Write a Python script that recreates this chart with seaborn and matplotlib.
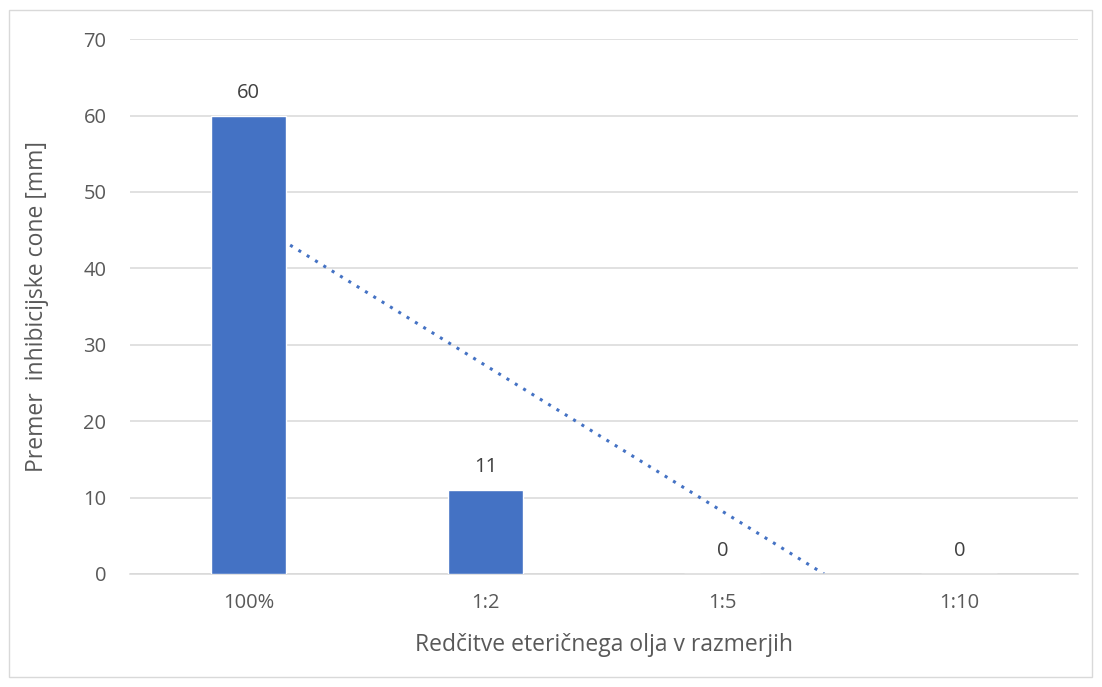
import numpy as np
import pandas as pd
import matplotlib.pyplot as plt
import seaborn as sns
from matplotlib.patches import Rectangle

# data
categories = ["100%", "1:2", "1:5", "1:10"]
values = [60, 11, 0, 0]
xlabel = "Redčitve eteričnega olja v razmerjih"
ylabel = "Premer  inhibicijske cone [mm]"

df = pd.DataFrame({"cat": categories, "val": values})

sns.set_style("white")
plt.rcParams["font.family"] = ["Open Sans", "DejaVu Sans"]

fig = plt.figure(figsize=(11.02, 6.87), dpi=100)
ax = fig.add_axes([0.118, 0.1645, 0.86, 0.7785])

bar_color = "#4472C4"
text_color = "#595959"

sns.barplot(data=df, x="cat", y="val", color=bar_color, width=0.32,
            saturation=1, ax=ax, zorder=3)

# linear trendline (like excel), drawn behind bars, clipped at 0
idx = np.arange(len(values))
slope, intercept = np.polyfit(idx, values, 1)
x_end = min(len(values) - 1, -intercept / slope)
xs = np.linspace(0, x_end, 50)
ax.plot(xs, slope * xs + intercept, linestyle=(0, (1, 2.2)), color=bar_color,
        linewidth=2.2, zorder=2)

# value labels
for i, v in enumerate(values):
    ax.text(i, v + 1.7, str(v), ha="center", va="bottom", fontsize=14.5,
            color="#404040", zorder=4)

ax.set_ylim(0, 70)
ax.set_xlim(-0.5, len(values) - 0.5)
ax.set_yticks(range(0, 71, 10))
ax.yaxis.grid(True, color="#d9d9d9", linewidth=1.1, zorder=0)
ax.set_axisbelow(True)
for s in ["top", "right", "left"]:
    ax.spines[s].set_visible(False)
ax.spines["bottom"].set_color("#d9d9d9")
ax.spines["bottom"].set_linewidth(1.1)
ax.tick_params(axis="both", length=0, labelsize=14.5, labelcolor=text_color)
ax.tick_params(axis="x", pad=14)
ax.tick_params(axis="y", pad=17)

ax.set_xlabel(xlabel, fontsize=16.5, color=text_color, labelpad=14)
ax.set_ylabel(ylabel, fontsize=16.5, color=text_color, labelpad=25)

# light border around the whole chart
fig.patches.append(Rectangle((9 / 1102, 10 / 687), 1 - 19 / 1102, 1 - 20 / 687,
                             transform=fig.transFigure, fill=False,
                             edgecolor="#d9d9d9", linewidth=1))

fig.savefig("out.png", dpi=100)
